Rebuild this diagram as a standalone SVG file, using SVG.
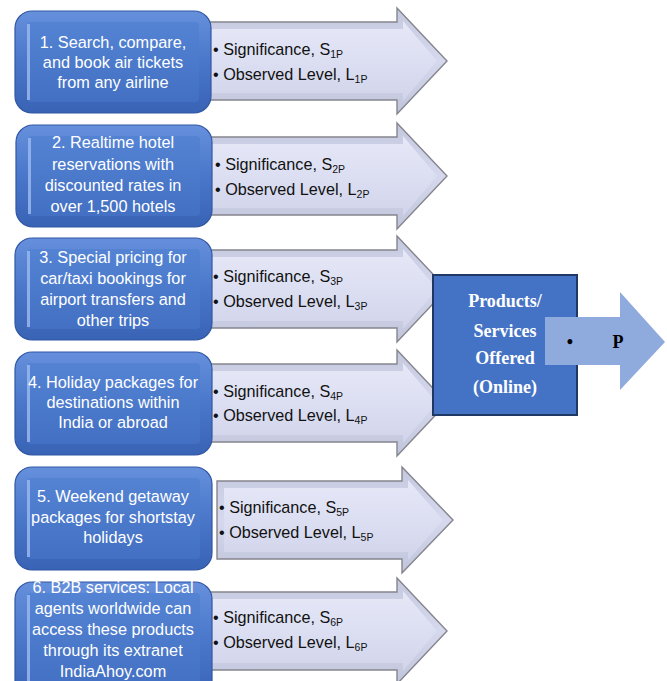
<svg xmlns="http://www.w3.org/2000/svg" width="667" height="681" viewBox="0 0 667 681">
<defs>
<linearGradient id="gArrow" x1="0" y1="0" x2="0" y2="1">
<stop offset="0" stop-color="#C4C8DE"/>
<stop offset="0.5" stop-color="#D6D9EE"/>
<stop offset="1" stop-color="#C0C4DA"/>
</linearGradient>
<linearGradient id="gArrowIn" x1="0" y1="0" x2="0" y2="1">
<stop offset="0" stop-color="#E6E8F7"/>
<stop offset="0.5" stop-color="#DCDFF2"/>
<stop offset="1" stop-color="#D2D5EA"/>
</linearGradient>
<linearGradient id="gBox" x1="0" y1="0" x2="0" y2="1">
<stop offset="0" stop-color="#6690DC"/>
<stop offset="0.5" stop-color="#4A77CA"/>
<stop offset="1" stop-color="#3963B5"/>
</linearGradient>
<linearGradient id="gBoxIn" x1="0" y1="0" x2="0" y2="1">
<stop offset="0" stop-color="#5483D4"/>
<stop offset="1" stop-color="#4370C2"/>
</linearGradient>
<path id="arr" d="M0,-39 H192 V-53 L242,0 L192,53 V39 H0 Z"/>
<path id="arrIn" d="M0,-32 H198 V-40 L232,0 L198,40 V32 H0 Z"/>
</defs>
<style>
.arrow{fill:url(#gArrow);stroke:#85858E;stroke-width:1.4}
.arrowIn{fill:url(#gArrowIn);stroke:none}
.box{fill:url(#gBox);stroke:#3157A3;stroke-width:1.2}
.boxIn{fill:url(#gBoxIn);stroke:none}
.hl{fill:#9DBBF0;opacity:0.8}
.bt{font-family:"Liberation Sans",Arial,sans-serif;font-size:16.3px;fill:#FFFFFF;text-anchor:middle}
.rt{font-family:"Liberation Sans",Arial,sans-serif;font-size:16.2px;fill:#111111}
.sub{font-size:10.5px}
.pt{font-family:"Liberation Serif","Times New Roman",serif;font-size:18px;font-weight:bold;fill:#FFFFFF;text-anchor:middle}
.pb{font-family:"Liberation Serif","Times New Roman",serif;font-size:18px;font-weight:bold;fill:#000000;text-anchor:middle}
</style>

<g id="connectors">
<g id="arrow1" transform="translate(205,61)"><use href="#arr" class="arrow"/><use href="#arrIn" class="arrowIn"/></g>
<g id="arrow2" transform="translate(205,176)"><use href="#arr" class="arrow"/><use href="#arrIn" class="arrowIn"/></g>
<g id="arrow3" transform="translate(205,289)"><use href="#arr" class="arrow"/><use href="#arrIn" class="arrowIn"/></g>
<g id="arrow4" transform="translate(205,403)"><use href="#arr" class="arrow"/><use href="#arrIn" class="arrowIn"/></g>
<g id="arrow5" transform="translate(217,520)">
<path class="arrow" d="M0,-39 H185 V-53 L236,0 L185,53 V39 H0 Z"/>
<path class="arrowIn" d="M7,-32 H191 V-40 L226,0 L191,40 V32 H7 Z"/>
</g>
<g id="arrow6" transform="translate(205,631)"><use href="#arr" class="arrow"/><use href="#arrIn" class="arrowIn"/></g>
</g>

<g id="labels">
<g id="lab1"><text class="rt" x="213" y="55">• Significance, S<tspan class="sub" dy="2.5">1P</tspan></text><text class="rt" x="213" y="80">• Observed Level, L<tspan class="sub" dy="2.5">1P</tspan></text></g>
<g id="lab2"><text class="rt" x="215" y="170">• Significance, S<tspan class="sub" dy="2.5">2P</tspan></text><text class="rt" x="215" y="195">• Observed Level, L<tspan class="sub" dy="2.5">2P</tspan></text></g>
<g id="lab3"><text class="rt" x="213" y="282">• Significance, S<tspan class="sub" dy="2.5">3P</tspan></text><text class="rt" x="213" y="307">• Observed Level, L<tspan class="sub" dy="2.5">3P</tspan></text></g>
<g id="lab4"><text class="rt" x="213" y="397">• Significance, S<tspan class="sub" dy="2.5">4P</tspan></text><text class="rt" x="213" y="421">• Observed Level, L<tspan class="sub" dy="2.5">4P</tspan></text></g>
<g id="lab5"><text class="rt" x="219" y="513">• Significance, S<tspan class="sub" dy="2.5">5P</tspan></text><text class="rt" x="219" y="538">• Observed Level, L<tspan class="sub" dy="2.5">5P</tspan></text></g>
<g id="lab6"><text class="rt" x="213" y="623">• Significance, S<tspan class="sub" dy="2.5">6P</tspan></text><text class="rt" x="213" y="648">• Observed Level, L<tspan class="sub" dy="2.5">6P</tspan></text></g>
</g>

<g id="node1">
<rect class="box" x="15" y="11" width="196" height="102" rx="17"/>
<rect class="boxIn" x="27" y="22" width="172" height="80" rx="4"/>
<rect class="hl" x="27" y="24" width="3" height="76"/>
<text class="bt" x="113" y="48">1. Search, compare,</text>
<text class="bt" x="113" y="68">and book air tickets</text>
<text class="bt" x="113" y="88">from any airline</text>
</g>
<g id="node2">
<rect class="box" x="16" y="125" width="196" height="102" rx="17"/>
<rect class="boxIn" x="28" y="136" width="172" height="80" rx="4"/>
<rect class="hl" x="28" y="138" width="3" height="76"/>
<text class="bt" x="113" y="148">2. Realtime hotel</text>
<text class="bt" x="113" y="170">reservations with</text>
<text class="bt" x="113" y="191">discounted rates in</text>
<text class="bt" x="113" y="212">over 1,500 hotels</text>
</g>
<g id="node3">
<rect class="box" x="15" y="238" width="197" height="102" rx="17"/>
<rect class="boxIn" x="27" y="249" width="173" height="80" rx="4"/>
<rect class="hl" x="27" y="251" width="3" height="76"/>
<text class="bt" x="113" y="263">3. Special pricing for</text>
<text class="bt" x="113" y="284">car/taxi bookings for</text>
<text class="bt" x="113" y="305">airport transfers and</text>
<text class="bt" x="113" y="326">other trips</text>
</g>
<g id="node4">
<rect class="box" x="15" y="352" width="197" height="103" rx="17"/>
<rect class="boxIn" x="27" y="363" width="173" height="81" rx="4"/>
<rect class="hl" x="27" y="365" width="3" height="77"/>
<text class="bt" x="113" y="388">4. Holiday packages for</text>
<text class="bt" x="113" y="408">destinations within</text>
<text class="bt" x="113" y="428">India or abroad</text>
</g>
<g id="node5">
<rect class="box" x="15" y="467" width="197" height="103" rx="17"/>
<rect class="boxIn" x="27" y="478" width="173" height="81" rx="4"/>
<rect class="hl" x="27" y="480" width="3" height="77"/>
<text class="bt" x="113" y="502">5. Weekend getaway</text>
<text class="bt" x="113" y="523">packages for shortstay</text>
<text class="bt" x="113" y="543">holidays</text>
</g>
<g id="node6">
<rect class="box" x="15" y="582" width="197" height="118" rx="17"/>
<rect class="boxIn" x="27" y="593" width="173" height="96" rx="4"/>
<rect class="hl" x="27" y="595" width="3" height="90"/>
<text class="bt" x="113" y="593">6. B2B services: Local</text>
<text class="bt" x="113" y="614">agents worldwide can</text>
<text class="bt" x="113" y="635">access these products</text>
<text class="bt" x="113" y="656">through its extranet</text>
<text class="bt" x="113" y="677">IndiaAhoy.com</text>
</g>

<g id="products">
<rect x="433" y="275" width="144" height="140" fill="#4472C4" stroke="#1F3864" stroke-width="2"/>
<text class="pt" x="505" y="307">Products/</text>
<text class="pt" x="505" y="337">Services</text>
<text class="pt" x="505" y="364">Offered</text>
<text class="pt" x="505" y="393">(Online)</text>
</g>
<g id="outputP">
<polygon points="545,317 620,317 620,292 665,342 620,390 620,365 545,365" fill="#8FAADC"/>
<text class="pb" x="570" y="348">•</text>
<text class="pb" x="618" y="348">P</text>
</g>
</svg>
